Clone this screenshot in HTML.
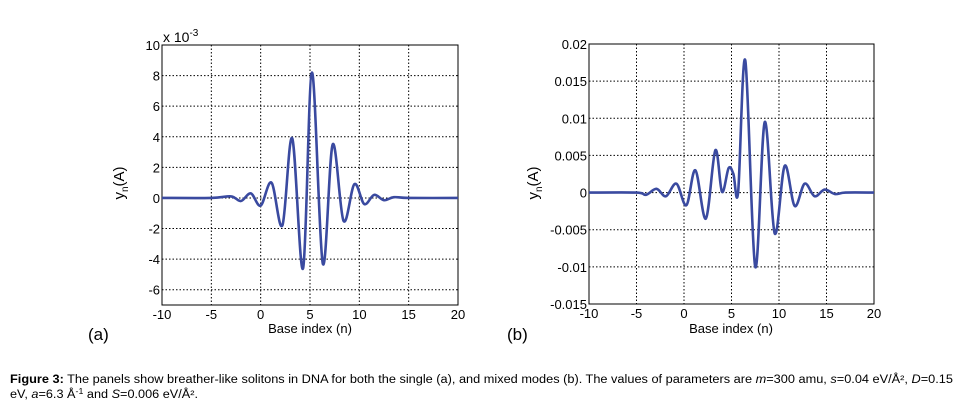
<!DOCTYPE html>
<html><head><meta charset="utf-8"><style>
body{margin:0;background:#fff;}
svg{display:block;font-family:"Liberation Sans",Arial,sans-serif;}
</style></head><body>
<svg id="fig" width="961" height="413" viewBox="0 0 961 413" xmlns="http://www.w3.org/2000/svg">
<g id="pa"></g>
<g id="pb"></g>
<text x="88" y="340" font-size="17">(a)</text>
<text x="507" y="340" font-size="17">(b)</text>
<text x="310" y="333" font-size="13" text-anchor="middle">Base index (n)</text>
<text x="731" y="333" font-size="13" text-anchor="middle">Base index (n)</text>
<text transform="translate(124,183) rotate(-90)" font-size="15" text-anchor="middle">y<tspan font-size="10" dy="4">n</tspan><tspan dy="-4">(A)</tspan></text>
<text transform="translate(538,183) rotate(-90)" font-size="15" text-anchor="middle">y<tspan font-size="10" dy="4">n</tspan><tspan dy="-4">(A)</tspan></text>
<text x="163" y="42" font-size="14">x 10<tspan font-size="10" dy="-6">-3</tspan></text>
<text x="10" y="383" font-size="11.5" textLength="943" lengthAdjust="spacingAndGlyphs"><tspan font-weight="bold">Figure 3:</tspan> The panels show breather-like solitons in DNA for both the single (a), and mixed modes (b). The values of parameters are <tspan font-style="italic">m</tspan>=300 amu, <tspan font-style="italic">s</tspan>=0.04 eV/Å², <tspan font-style="italic">D</tspan>=0.15</text>
<text x="10" y="398" font-size="11.5" textLength="188" lengthAdjust="spacingAndGlyphs">eV, <tspan font-style="italic">a</tspan>=6.3 Å<tspan font-size="8" dy="-4">-1</tspan><tspan dy="4"> and </tspan><tspan font-style="italic">S</tspan>=0.006 eV/Å².</text>
</svg>
<script>
const xTicks = [-10,-5,0,5,10,15,20];
const yTicksA = [10,8,6,4,2,0,-2,-4,-6];
const yTickLabelsA = ['10','8','6','4','2','0','-2','-4','-6'];
const yTicksB = [0.02,0.015,0.01,0.005,0,-0.005,-0.01,-0.015];
const yTickLabelsB = ['0.02','0.015','0.01','0.005','0','-0.005','-0.01','-0.015'];
const seriesAx = [-10,-5,-3,-2,-1,0,1.1,2.2,3.2,4.3,5.2,6.3,7.3,8.4,9.5,10.5,11.5,12.5,13.5,15,20];
const seriesAy = [0,0,0.1,-0.2,0.3,-0.5,1.0,-1.8,3.9,-4.6,8.2,-4.3,3.5,-1.5,0.9,-0.4,0.2,-0.15,0.05,0,0];
const seriesBx = [-10,-5,-4,-2.9,-1.9,-0.8,0.25,1.2,2.3,3.3,4.0,4.7,5.2,5.7,6.45,7.5,8.5,9.55,10.6,11.65,12.7,13.75,14.8,15.9,17,20];
const seriesBy = [0,0,-0.0003,0.0005,-0.0005,0.0012,-0.0017,0.003,-0.0035,0.0057,0.0001,0.0033,0.0025,0.0001,0.0178,-0.01,0.0095,-0.0055,0.0036,-0.0018,0.0012,-0.0005,0.0004,-0.0002,0,0];
const NS='http://www.w3.org/2000/svg';
function mk(parent,tag,attrs){const e=document.createElementNS(NS,tag);for(const k in attrs)e.setAttribute(k,attrs[k]);parent.appendChild(e);return e;}
function panel(g,L,R,T,B,xmin,xmax,ymin,ymax,yt,ytl,xs,ys,id){
  const sx=v=>L+(v-xmin)/(xmax-xmin)*(R-L);
  const sy=v=>B-(v-ymin)/(ymax-ymin)*(B-T);
  xTicks.forEach(t=>{
    if(t>xmin&&t<xmax){const l=mk(g,'line',{x1:sx(t),x2:sx(t),y1:T,y2:B,stroke:'#000','stroke-width':1,'stroke-dasharray':'1.5 2'});
    
    }
    const tx=mk(g,'text',{x:sx(t),y:B+14,'font-size':13,'text-anchor':'middle'});tx.textContent=t;
    
    
  });
  yt.forEach((t,i)=>{
    if(t>ymin&&t<ymax){const l=mk(g,'line',{x1:L,x2:R,y1:sy(t),y2:sy(t),stroke:'#000','stroke-width':1,'stroke-dasharray':'1.5 2'});
    
    }
    const tx=mk(g,'text',{x:L-2,y:sy(t)+5,'font-size':13,'text-anchor':'end'});tx.textContent=ytl[i];
    
    
  });
  const fr=mk(g,'rect',{x:L,y:T,width:R-L,height:B-T,fill:'none',stroke:'#000','stroke-width':1});
  
  
  const P=xs.map((x,i)=>[sx(x),sy(ys[i])]);
  let d='M'+P[0][0]+','+P[0][1];
  for(let i=0;i<P.length-1;i++){
    const p0=P[Math.max(0,i-1)],p1=P[i],p2=P[i+1],p3=P[Math.min(P.length-1,i+2)];
    const c1=[p1[0]+(p2[0]-p0[0])/6,p1[1]+(p2[1]-p0[1])/6];
    const c2=[p2[0]-(p3[0]-p1[0])/6,p2[1]-(p3[1]-p1[1])/6];
    c1[0]=Math.min(Math.max(c1[0],p1[0]),p2[0]);c2[0]=Math.min(Math.max(c2[0],p1[0]),p2[0]);
    d+=' C'+c1[0]+','+c1[1]+' '+c2[0]+','+c2[1]+' '+p2[0]+','+p2[1];
  }
  const pth=mk(g,'path',{d:d,fill:'none',stroke:'#3a4aa0','stroke-width':2.6,'stroke-linejoin':'round'});
  
  
}
panel(document.getElementById('pa'),162,458,45,305,-10,20,-7,10,yTicksA,yTickLabelsA,seriesAx,seriesAy,'a');
panel(document.getElementById('pb'),589,874,44,304,-10,20,-0.015,0.02,yTicksB,yTickLabelsB,seriesBx,seriesBy,'b');
</script>
</body></html>
